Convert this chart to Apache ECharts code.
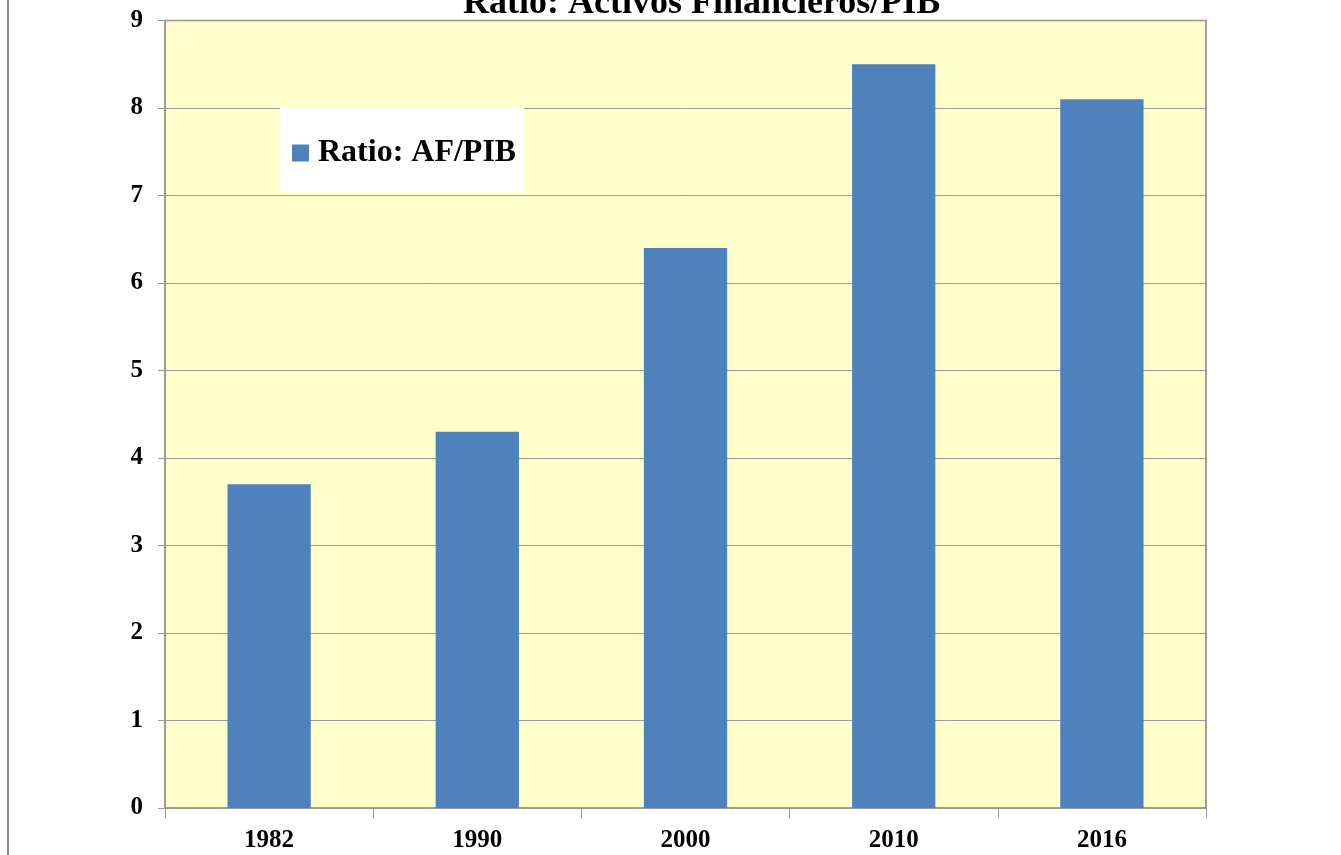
<!DOCTYPE html>
<html>
<head>
<meta charset="utf-8">
<script src="https://cdn.jsdelivr.net/npm/echarts@6/dist/echarts.min.js"></script>
<style>
  html, body { margin: 0; padding: 0; background: #fff; }
  #chart { width: 1341px; height: 855px; }
</style>
</head>
<body>
<div id="chart"></div>
<script>
const years = ['1982', '1990', '2000', '2010', '2016']
const ratioAfPib = [3.7, 4.3, 6.4, 8.5, 8.1]
const yTicks = { min: 0, max: 9, step: 1 }

const serif = '"Liberation Serif", "DejaVu Serif", serif'
const chart = echarts.init(document.getElementById('chart'))

chart.setOption({
  backgroundColor: '#ffffff',
  animation: false,
  title: {
    text: 'Ratio: Activos Financieros/PIB',
    left: 458,
    top: -19,
    textStyle: { fontFamily: serif, fontWeight: 'bold', fontSize: 36, color: '#000' }
  },
  legend: {
    left: 280,
    top: 108,
    backgroundColor: '#ffffff',
    padding: [29, 8, 23, 12],
    icon: 'rect',
    itemWidth: 17,
    itemHeight: 17,
    itemGap: 5,
    textStyle: { fontFamily: serif, fontWeight: 'bold', fontSize: 32, color: '#000', padding: [0, 0, 0, 4] },
    data: ['Ratio: AF/PIB']
  },
  grid: {
    left: 165,
    right: 135,
    top: 20.5,
    bottom: 47,
    show: true,
    backgroundColor: '#FFFFCC',
    borderColor: '#7f7f7f',
    borderWidth: 1.5
  },
  xAxis: {
    type: 'category',
    data: years,
    axisLine: { lineStyle: { color: '#9a9a9a', width: 1 } },
    axisTick: { show: true, length: 10, lineStyle: { color: '#9a9a9a' } },
    axisLabel: { fontFamily: serif, fontWeight: 'bold', fontSize: 25, color: '#000', margin: 20 }
  },
  yAxis: {
    type: 'value',
    min: yTicks.min,
    max: yTicks.max,
    interval: yTicks.step,
    axisLine: { show: true, lineStyle: { color: '#9a9a9a', width: 1 } },
    axisTick: { show: true, length: 7, lineStyle: { color: '#9a9a9a' } },
    axisLabel: { fontFamily: serif, fontWeight: 'bold', fontSize: 25, color: '#000', margin: 22 },
    splitLine: { show: true, lineStyle: { color: '#9a9a9a', width: 1 } }
  },
  series: [
    {
      name: 'Ratio: AF/PIB',
      type: 'bar',
      data: ratioAfPib,
      barWidth: '40%',
      itemStyle: { color: '#4F81BD' }
    }
  ],
  graphic: [
    {
      type: 'line',
      shape: { x1: 8, y1: 0, x2: 8, y2: 855 },
      style: { stroke: '#8c8c8c', lineWidth: 2 }
    }
  ]
})
</script>
</body>
</html>
